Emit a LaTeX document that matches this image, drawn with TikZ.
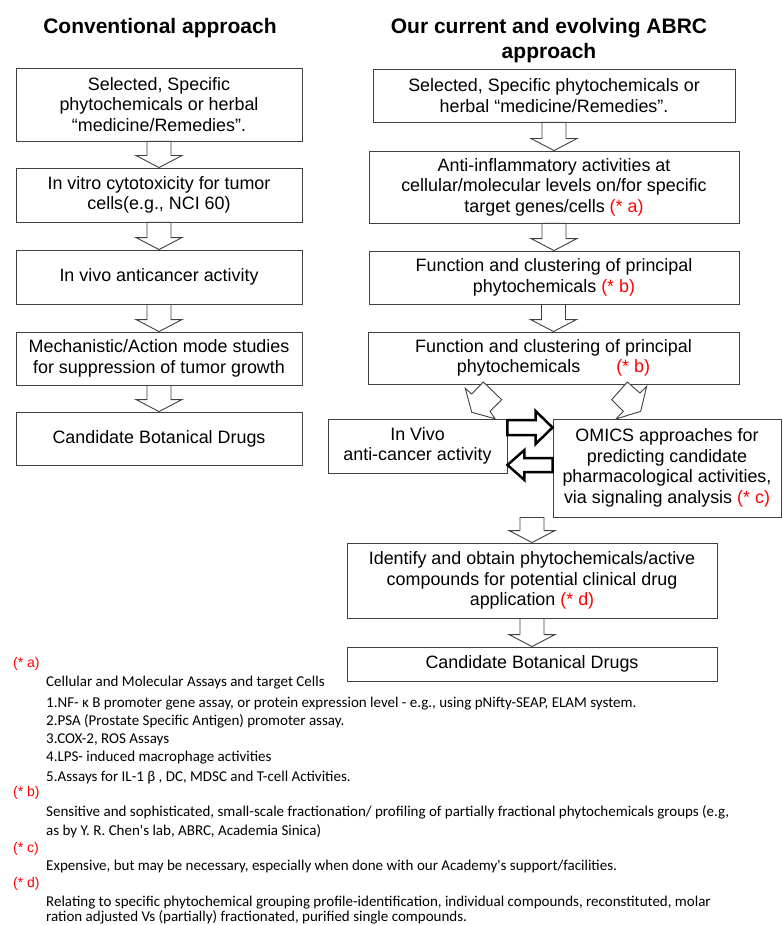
\documentclass[tikz,border=0pt]{standalone}
\usepackage{fontspec}
\setmainfont{Liberation Sans}
\newfontfamily\calfont{Carlito}
\usetikzlibrary{calc}
\newcommand\dnarrow[2]{\draw[barrow] let \p1=(#1.south), \p2=(#2.north) in
  (\x2-12pt,\y1) -- (\x2-12pt,\y2+12pt) -- (\x2-23pt,\y2+12pt) -- (\x2,\y2) --
  (\x2+23pt,\y2+12pt) -- (\x2+12pt,\y2+12pt) -- (\x2+12pt,\y1) -- cycle;}
\newcommand\rd[1]{{\color{red}#1}}
\begin{document}
\begin{tikzpicture}[x=1pt,y=-1pt,
  box/.style={draw=black!75, line width=0.9pt, inner sep=0pt, align=center,
    font=\fontsize{17.9}{20.5}\selectfont},
  barrow/.style={draw=black!75, line width=0.9pt, fill=white, line join=miter},
  tarrow/.style={draw=black, line width=2.5pt, fill=white, line join=miter},
  ttl/.style={inner sep=0pt, align=center, font=\fontsize{21}{25}\selectfont\bfseries},
  fn/.style={anchor=base west, inner sep=0pt, font=\calfont\fontsize{15}{18}\selectfont},
  fl/.style={anchor=base west, inner sep=0pt, text=red, font=\fontsize{14}{16}\selectfont}]
\useasboundingbox (0,0) rectangle (782,925);
\fill[white] (0,0) rectangle (782,925);

% titles
\node[ttl, anchor=base] (t1) at (160,34) {Conventional approach};
\node[ttl, anchor=base] (t2) at (549,59) {Our current and evolving ABRC\\approach};

% left column
\node[box, minimum width=286, minimum height=73] (L1) at (159,104.5)
  {Selected, Specific\\phytochemicals or herbal\\“medicine/Remedies”.};
\node[box, minimum width=286, minimum height=54] (L2) at (159,195)
  {In vitro cytotoxicity for tumor\\cells(e.g., NCI 60)};
\node[box, minimum width=286, minimum height=54] (L3) at (159,277)
  {In vivo anticancer activity};
\node[box, minimum width=286, minimum height=53] (L4) at (159,358.5)
  {Mechanistic/Action mode studies\\for suppression of tumor growth};
\node[box, minimum width=286, minimum height=53] (L5) at (159,438.5)
  {Candidate Botanical Drugs};

% right column
\node[box, minimum width=362, minimum height=53] (R1) at (554,95.5)
  {Selected, Specific phytochemicals or\\herbal “medicine/Remedies”.};
\node[box, minimum width=370, minimum height=72] (R2) at (554,187)
  {Anti-inflammatory activities at\\cellular/molecular levels on/for specific\\target genes/cells \rd{(* a)}};
\node[box, minimum width=370, minimum height=53] (R3) at (554,277.5)
  {Function and clustering of principal\\phytochemicals \rd{(* b)}};
\node[box, minimum width=371, minimum height=52] (R4) at (553.5,358)
  {Function and clustering of principal\\phytochemicals\hspace{36pt}\rd{(* b)}};
\node[box, minimum width=179, minimum height=54] (IV) at (417.5,446)
  {In Vivo\\anti-cancer activity};
\node[box, minimum width=228, minimum height=98] (OM) at (667,468)
  {OMICS approaches for\\predicting candidate\\pharmacological activities,\\via signaling analysis \rd{(* c)}};
\node[box, minimum width=370, minimum height=75] (ID) at (532,580.5)
  {Identify and obtain phytochemicals/active\\compounds for potential clinical drug\\application \rd{(* d)}};
\node[box, minimum width=370, minimum height=34] (CB) at (532,664)
  {Candidate Botanical Drugs};

% hollow down arrows
\dnarrow{L1}{L2}
\dnarrow{L2}{L3}
\dnarrow{L3}{L4}
\dnarrow{L4}{L5}
\dnarrow{R1}{R2}
\dnarrow{R2}{R3}
\dnarrow{R3}{R4}
\dnarrow{OM}{ID}
\dnarrow{ID}{CB}

% tilted arrows from R4
\draw[barrow] (465.3,388.3) -- (471.7,394) -- (483.3,382) -- (501.7,399.7) -- (490,411.3) -- (495,418.7) -- (471.7,412.3) -- cycle;
\draw[barrow] (611.7,399.7) -- (627.3,382) -- (640,393) -- (646.7,386.3) -- (640.7,411.3) -- (616,419) -- (623.3,411.3) -- cycle;

% thick exchange arrows
\draw[tarrow] let \p1=(IV.east), \p2=(OM.west) in
  (\x1,-420pt) -- (\x2-17pt,-420pt) -- (\x2-17pt,-411pt) -- (\x2,-427.5pt) --
  (\x2-17pt,-444pt) -- (\x2-17pt,-435pt) -- (\x1,-435pt) -- cycle;
\draw[tarrow] let \p1=(IV.east), \p2=(OM.west) in
  (\x2,-458pt) -- (\x1+17pt,-458pt) -- (\x1+17pt,-450pt) -- (\x1,-465pt) --
  (\x1+17pt,-480pt) -- (\x1+17pt,-472pt) -- (\x2,-472pt) -- cycle;

% footnotes
\node[fl] (fa) at (13,667) {(* a)};
\node[fn] (a0) at (46,686) {Cellular and Molecular Assays and target Cells};
\node[fn] (a1) at (46,707) {1.NF- κ B promoter gene assay, or protein expression level - e.g., using pNifty-SEAP, ELAM system.};
\node[fn] (a2) at (46,725) {2.PSA (Prostate Specific Antigen) promoter assay.};
\node[fn] (a3) at (46,743) {3.COX-2, ROS Assays};
\node[fn] (a4) at (46,761) {4.LPS- induced macrophage activities};
\node[fn] (a5) at (46,781) {5.Assays for IL-1 β , DC, MDSC and T-cell Activities.};
\node[fl] (fb) at (13,796) {(* b)};
\node[fn] (b1) at (46,816) {Sensitive and sophisticated, small-scale fractionation/ profiling of partially fractional phytochemicals groups (e.g,};
\node[fn] (b2) at (46,835) {as by Y. R. Chen's lab, ABRC, Academia Sinica)};
\node[fl] (fc) at (13,852) {(* c)};
\node[fn] (c1) at (46,870) {Expensive, but may be necessary, especially when done with our Academy's support/facilities.};
\node[fl] (fd) at (13,887) {(* d)};
\node[fn] (d1) at (46,906) {Relating to specific phytochemical grouping profile-identification, individual compounds, reconstituted, molar};
\node[fn] (d2) at (46,921) {ration adjusted Vs (partially) fractionated, purified single compounds.};
\end{tikzpicture}
\end{document}
